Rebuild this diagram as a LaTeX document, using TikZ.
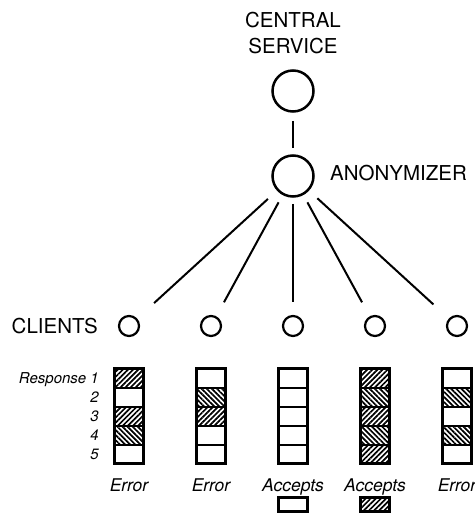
\documentclass[tikz,border=0pt]{standalone}
\usepackage{fontspec}
\setmainfont{TeX Gyre Heros}
\usetikzlibrary{patterns.meta}
\tikzset{
  big/.style={circle,draw,line width=2.5pt,minimum size=41pt,inner sep=0pt},
  client/.style={circle,draw,line width=2.2pt,minimum size=20pt,inner sep=0pt},
  conn/.style={line width=2pt},
  caps/.style={font=\fontsize{20.5}{26}\selectfont, inner sep=0pt},
  resp/.style={font=\fontsize{15}{17}\selectfont\itshape, anchor=base east, inner sep=0pt},
  verdict/.style={font=\fontsize{17.5}{19}\selectfont\itshape, anchor=base, inner sep=0pt},
  ha/.style={pattern={Lines[angle=45,distance=3.6pt,line width=1.7pt]}},
  hb/.style={pattern={Lines[angle=-45,distance=3.6pt,line width=1.7pt]}},
  hn/.style={},
  cellbox/.style={line width=2pt},
  stackbox/.style={line width=3pt},
}
\begin{document}
\begin{tikzpicture}[x=1pt,y=-1pt]
\useasboundingbox (0,0) rectangle (474,518);
% top
\node[caps,align=center] (cstext) at (293,33) {CENTRAL\\SERVICE};
\node[big] (cs) at (293,91) {};
\node[big] (an) at (293,176) {};
\node[caps,anchor=west] (antext) at (330,173) {ANONYMIZER};
\draw[conn,shorten <=30pt,shorten >=28pt] (cs.center) -- (an.center);
% clients
\node[caps,anchor=east] (cltext) at (98,326) {CLIENTS};
\node[client] (c1) at (129,326) {};
\node[client] (c2) at (211,326) {};
\node[client] (c3) at (293,326) {};
\node[client] (c4) at (375,326) {};
\node[client] (c5) at (457,326) {};
\draw[conn,shorten <=34pt,shorten >=34pt] (an.center) -- (c1.center);
\draw[conn,shorten <=30pt,shorten >=27pt] (an.center) -- (c2.center);
\draw[conn,shorten <=28pt,shorten >=24pt] (an.center) -- (c3.center);
\draw[conn,shorten <=30pt,shorten >=27pt] (an.center) -- (c4.center);
\draw[conn,shorten <=33pt,shorten >=32pt] (an.center) -- (c5.center);
% response labels
\node[resp] (r1) at (99,383.5) {Response 1};
\node[resp] (r2) at (99,402.5) {2};
\node[resp] (r3) at (99,421.5) {3};
\node[resp] (r4) at (99,440.5) {4};
\node[resp] (r5) at (99,459.5) {5};
% stacks
\foreach \x/\pa/\pb/\pc/\pd/\pe in {129/ha/hn/ha/hb/hn, 211/hn/hb/ha/hn/hn, 293/hn/hn/hn/hn/hn, 375/ha/hb/ha/hb/ha, 457/hn/hb/hn/hb/hn}{
  \foreach \p [count=\i] in {\pa,\pb,\pc,\pd,\pe}{
    \draw[cellbox,\p] (\x-14.5,349.5+19*\i) rectangle (\x+14.5,368.5+19*\i);
  }
  \draw[stackbox] (\x-14.5,368.5) rectangle (\x+14.5,463.5);
}
% verdicts
\node[verdict] (v1) at (129,491) {Error};
\node[verdict] (v2) at (211,491) {Error};
\node[verdict] (v3) at (293,491) {Accepts};
\node[verdict] (v4) at (375,491) {Accepts};
\node[verdict] (v5) at (457,491) {Error};
\draw[stackbox] (278.5,497.5) rectangle (307.5,511.5);
\draw[stackbox,ha] (360.5,497.5) rectangle (389.5,511.5);
\end{tikzpicture}
\end{document}
